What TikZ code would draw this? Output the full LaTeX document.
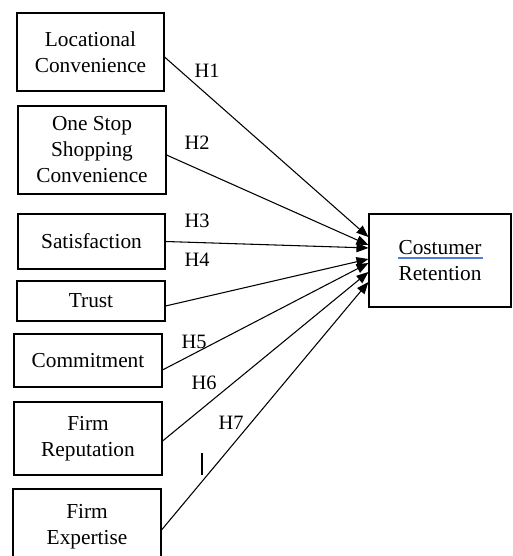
\documentclass[tikz,border=0pt]{standalone}
\usepackage{fontspec}
\setmainfont{Liberation Serif}
\usetikzlibrary{arrows.meta}
\definecolor{spellblue}{RGB}{80,125,215}
\begin{document}
\begin{tikzpicture}[x=0.75pt,y=-0.75pt,
 box/.style={draw,line width=0.8pt,inner sep=0pt,align=center,minimum width=111pt,font=\fontsize{16}{19.5}\selectfont},
 conn/.style={line width=0.8pt,-{Triangle[length=9pt,width=7pt]}},
 hlab/.style={font=\fontsize{15.3}{18}\selectfont,inner sep=0pt}]
\useasboundingbox (0,0) rectangle (512,556);
\clip (0,0) rectangle (512,556);
\node[box,minimum width=110.25pt,minimum height=58.5pt] (lc) at (90.5,52) {Locational\\Convenience};
\node[box,minimum height=66pt] (os) at (92,150) {One Stop\\Shopping\\Convenience};
\node[box,minimum width=110.25pt,minimum height=41.25pt] (sa) at (91.5,241.5) {Satisfaction};
\node[box,minimum height=30pt] (tr) at (91,301) {Trust};
\node[box,minimum height=39.75pt] (co) at (88,360.5) {Commitment};
\node[box,minimum height=54.75pt] (fr) at (88,438.5) {Firm\\Reputation};
\node[box,minimum height=57pt] (fe) at (87,527) {Firm\\Expertise};
\node[box,minimum width=106.5pt,minimum height=69.75pt] (cr) at (440,260.5) {Costumer\\Retention};
\draw[spellblue,line width=1.2pt] ([xshift=-31.5pt,yshift=1.8pt]cr.center) -- ([xshift=32pt,yshift=1.8pt]cr.center);
\draw[conn] ([yshift=-3.75pt]lc.east) -- ([yshift=17.6pt]cr.west);
\draw[conn] ([yshift=-3.75pt]os.east) -- ([yshift=11.6pt]cr.west);
\draw[conn] (sa.east) -- ([yshift=9.4pt]cr.west);
\draw[conn] ([yshift=-3.75pt]tr.east) -- ([yshift=1.1pt]cr.west);
\draw[conn] ([yshift=-7.1pt]co.east) -- ([yshift=-1.9pt]cr.west);
\draw[conn] ([yshift=-1.9pt]fr.east) -- ([yshift=-8.6pt]cr.west);
\draw[conn] ([yshift=-2.25pt]fe.east) -- ([yshift=-16.1pt]cr.west);
\node[hlab] (h1) at (207,71) {H1};
\node[hlab] (h2) at (197,143) {H2};
\node[hlab] (h3) at (197,221) {H3};
\node[hlab] (h4) at (197,260) {H4};
\node[hlab] (h5) at (194,342) {H5};
\node[hlab] (h6) at (204,383) {H6};
\node[hlab] (h7) at (231,423) {H7};
\coordinate (m1) at (202,453);
\coordinate (m2) at (202,475);
\draw[line width=0.9pt] (m1) -- (m2);
\end{tikzpicture}
\end{document}
